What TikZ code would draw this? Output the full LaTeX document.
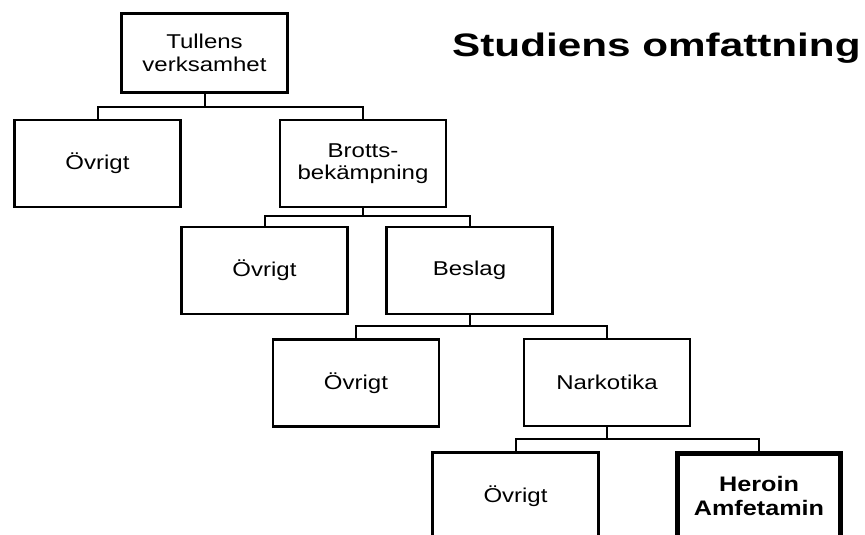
\documentclass[tikz,border=0pt]{standalone}
\usepackage{fontspec}
\setmainfont{Liberation Sans}[FakeStretch=1.2]
\newfontfamily\rubrikfont{Liberation Sans}[FakeStretch=1.3]
\usetikzlibrary{positioning}

\begin{document}
\begin{tikzpicture}[
				x=1pt,y=-1pt,
				box/.style={draw,rectangle,line width=2.8pt,minimum width=166pt,minimum height=87pt,inner sep=0pt,align=center,font=\fontsize{20}{22.5}\selectfont},
				valt/.style={line width=5pt,minimum width=163pt,minimum height=85pt,font=\fontsize{21}{24}\selectfont\bfseries},
				link/.style={line width=2pt}
				]
				\useasboundingbox (0,0) rectangle (865,535);
				\clip (0,0) rectangle (865,535);
				
				\node[box,minimum height=79pt] (tul) at (204.5,53) {Tullens\\verksamhet};
				\node[box] (ov1) at (97.5,163.5) {Övrigt};
				\node[box] (brott) at (363,163.5) {Brotts-\\bekämpning};
				\node[box] (ov2) at (264.5,270.5) {Övrigt};
				\node[box] (beslag) at (469.5,270.5) {Beslag};
				\node[box] (ov3) at (356,383) {Övrigt};
				\node[box] (nark) at (607,382.5) {Narkotika};
				\node[box] (ov4) at (515.5,496) {Övrigt};
				\node[box,valt] (her) at (759,496) {Heroin\\Amfetamin};
				
				% Rubrik
				\node[font=\rubrikfont\fontsize{32.5}{36}\selectfont\bfseries,anchor=base west,inner sep=0pt] (rubrik) at (452,57) {Studiens omfattning};
				
				% Förgreningar
				\draw[link] (tul.south) -- ++(0,13) -| (ov1.north);
				\draw[link] (tul.south) -- ++(0,13) -| (brott.north);
				\draw[link] (brott.south) -- ++(0,8) -| (ov2.north);
				\draw[link] (brott.south) -- ++(0,8) -| (beslag.north);
				\draw[link] (beslag.south) -- ++(0,11) -| (ov3.north);
				\draw[link] (beslag.south) -- ++(0,11) -| (nark.north);
				\draw[link] (nark.south) -- ++(0,12) -| (ov4.north);
				\draw[link] (nark.south) -- ++(0,12) -| (her.north);
				
			\end{tikzpicture}
\end{document}
